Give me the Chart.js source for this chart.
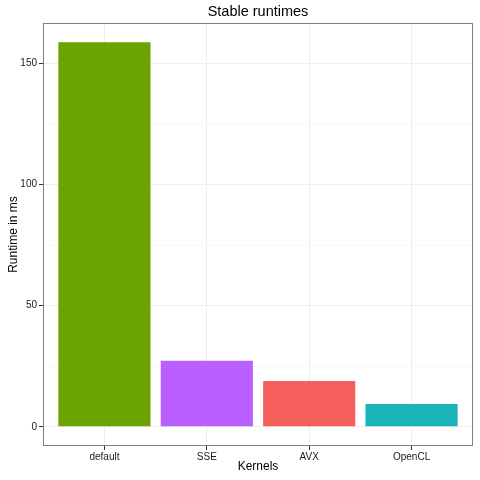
<!DOCTYPE html>
<html>
<head>
<meta charset="utf-8">
<script src="https://cdn.jsdelivr.net/npm/chart.js@4.4.1/dist/chart.umd.min.js"></script>
<style>
  html, body { margin: 0; padding: 0; background: #fff; }
  #wrap { width: 480px; height: 480px; }
</style>
</head>
<body>
<div id="wrap"><canvas id="runtimeChart" width="480" height="480"></canvas></div>
<script>
// data
const kernels = ['default', 'SSE', 'AVX', 'OpenCL'];
const runtimes = [158.7, 27.2, 18.9, 9.4];
const barColors = ['#6BA300', '#B95EFF', '#F45F5C', '#19B4B9'];
const yTicks = [0, 25, 50, 75, 100, 125, 150];
const yLabelled = [0, 50, 100, 150];

const FONT = 'Arial, "Liberation Sans", sans-serif';

// ggplot-ish expansion: 5% on y, 0.6 units on discrete x
const yMax = Math.max(...runtimes);
const yPad = yMax * 0.05;

const isMajor = (v) => yLabelled.includes(v);

// panel border + centred title, like theme_bw
const panelPlugin = {
    id: 'panel',
    afterDraw(chart) {
        const { ctx, chartArea: a } = chart;
        ctx.save();
        ctx.strokeStyle = '#7F7F7F';
        ctx.lineWidth = 1;
        ctx.strokeRect(a.left + 0.5, a.top + 0.5, a.right - a.left - 1, a.bottom - a.top - 1);
        ctx.fillStyle = '#000';
        ctx.font = '14.5px ' + FONT;
        ctx.textAlign = 'center';
        ctx.textBaseline = 'middle';
        ctx.fillText('Stable runtimes', (a.left + a.right) / 2, 12);
        ctx.restore();
    }
};

const ctx = document.getElementById('runtimeChart').getContext('2d');
new Chart(ctx, {
    type: 'bar',
    data: {
        datasets: [{
            data: runtimes.map((v, i) => ({ x: i + 1, y: v })),
            backgroundColor: barColors,
            borderWidth: 0,
            categoryPercentage: 1,
            barPercentage: 0.9,
        }],
    },
    options: {
        responsive: false,
        animation: false,
        layout: { padding: { top: 23, right: 7, left: 0, bottom: 0 } },
        plugins: {
            legend: { display: false },
            tooltip: { enabled: false },
        },
        scales: {
            x: {
                type: 'linear',
                offset: false,
                min: 0.4,
                max: kernels.length + 0.6,
                afterBuildTicks: (s) => { s.ticks = kernels.map((k, i) => ({ value: i + 1 })); },
                afterFit: (s) => { s.height = 34; },
                border: { display: false },
                grid: { offset: false, color: '#EDEDED', tickColor: '#333', tickLength: 4, lineWidth: 1 },
                ticks: {
                    autoSkip: false,
                    maxRotation: 0,
                    padding: 1,
                    color: '#1a1a1a',
                    font: { family: FONT, size: 10 },
                    callback: (v) => kernels[v - 1] || '',
                },
                title: {
                    display: true,
                    text: 'Kernels',
                    color: '#000',
                    font: { family: FONT, size: 12 },
                    padding: { top: 0, bottom: 6 },
                },
            },
            y: {
                type: 'linear',
                min: -yPad,
                max: yMax + yPad,
                afterBuildTicks: (s) => { s.ticks = yTicks.map((v) => ({ value: v })); },
                afterFit: (s) => { s.width = 43; },
                border: { display: false },
                grid: {
                    color: (c) => (isMajor(c.tick.value) ? '#EDEDED' : '#F8F8F8'),
                    tickColor: (c) => (isMajor(c.tick.value) ? '#333' : 'rgba(0,0,0,0)'),
                    tickLength: 4,
                    lineWidth: 1,
                },
                ticks: {
                    padding: 2,
                    color: '#1a1a1a',
                    font: { family: FONT, size: 10 },
                    callback: (v) => (isMajor(v) ? String(v) : ''),
                },
                title: {
                    display: true,
                    text: 'Runtime in ms',
                    color: '#000',
                    font: { family: FONT, size: 12 },
                    padding: { top: 6, bottom: 0 },
                },
            },
        },
    },
    plugins: [panelPlugin],
});
</script>
</body>
</html>
